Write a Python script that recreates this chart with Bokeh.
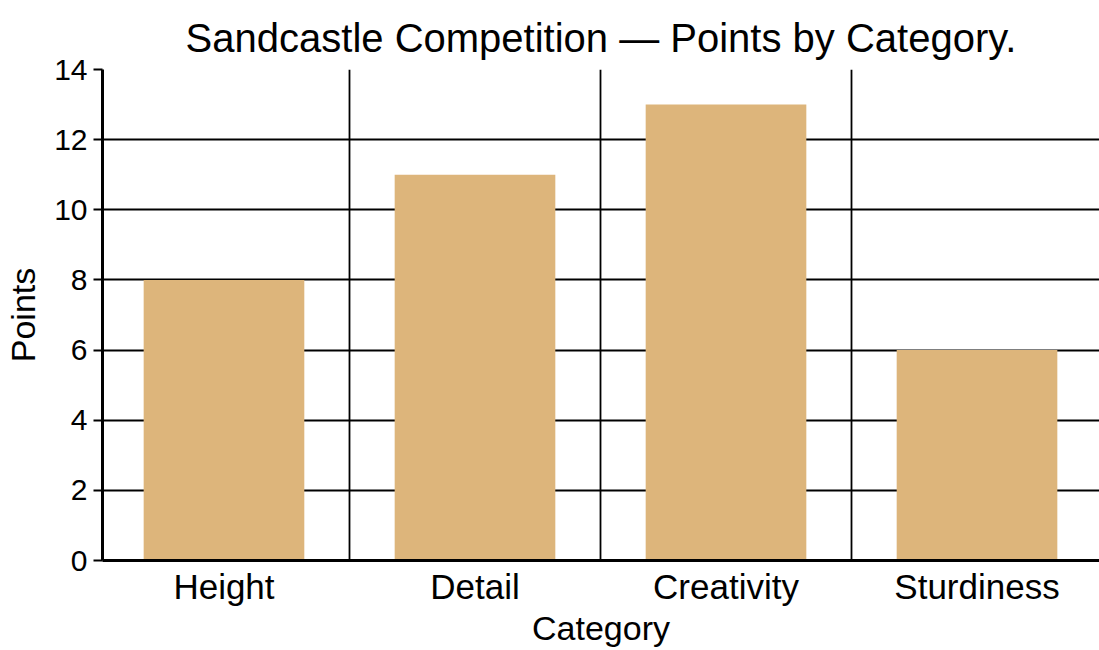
from bokeh.plotting import figure
from bokeh.models import Range1d, FixedTicker
from bokeh.embed import file_html
from bokeh.resources import INLINE

categories = ["Height", "Detail", "Creativity", "Sturdiness"]
points = [8, 11, 13, 6]
y_ticks = [0, 2, 4, 6, 8, 10, 12, 14]

FONT = "Liberation Sans"
BAR = "#DDB57B"

xs = [i + 0.5 for i in range(len(categories))]

p = figure(width=1099, height=650, output_backend="svg", toolbar_location=None,
           x_range=Range1d(0.016, 3.988), y_range=Range1d(0, 14),
           min_border_left=102, min_border_right=0, min_border_top=69,
           min_border_bottom=90, outline_line_color=None,
           background_fill_color="white", border_fill_color="white")

p.title.text = "Sandcastle Competition \u2014 Points by Category."
p.title.align = "center"
p.title.text_font = FONT
p.title.text_font_size = "40px"
p.title.text_font_style = "normal"
p.title.text_color = "black"
p.title.standoff = 20

p.vbar(x=xs, top=points, width=0.64, color=BAR, line_color=None)

# x axis
p.xaxis.ticker = FixedTicker(ticks=xs)
p.xaxis.major_label_overrides = {x: c for x, c in zip(xs, categories)}
p.xaxis.major_tick_line_color = None
p.xaxis.major_tick_out = 0
p.xaxis.major_tick_in = 0
p.xaxis.minor_tick_line_color = None
p.xaxis.major_label_standoff = 6
p.xaxis.axis_label = "Category"
p.xaxis.axis_label_standoff = 0

# y axis
p.yaxis.ticker = FixedTicker(ticks=y_ticks)
p.yaxis.major_tick_out = 9
p.yaxis.major_tick_in = 0
p.yaxis.minor_tick_line_color = None
p.yaxis.major_tick_line_width = 2
p.yaxis.major_label_standoff = 6
p.yaxis.axis_label = "Points"
p.yaxis.axis_label_standoff = 9

for ax in (p.xaxis, p.yaxis):
    ax.axis_line_color = "black"
    ax.axis_line_width = 3
    ax.major_label_text_font = FONT
    ax.major_label_text_color = "black"
    ax.axis_label_text_font = FONT
    ax.axis_label_text_font_style = "normal"
    ax.axis_label_text_color = "black"
    ax.axis_label_text_font_size = "34px"
p.xaxis.major_label_text_font_size = "35px"
p.yaxis.major_label_text_font_size = "30px"

p.xgrid.ticker = FixedTicker(ticks=[1, 2, 3])
p.ygrid.ticker = FixedTicker(ticks=y_ticks[1:])
for g in (p.xgrid, p.ygrid):
    g.grid_line_color = "black"
    g.grid_line_width = 1.8
    g.grid_line_alpha = 1.0

open("out.html", "w").write(file_html(p, INLINE))
